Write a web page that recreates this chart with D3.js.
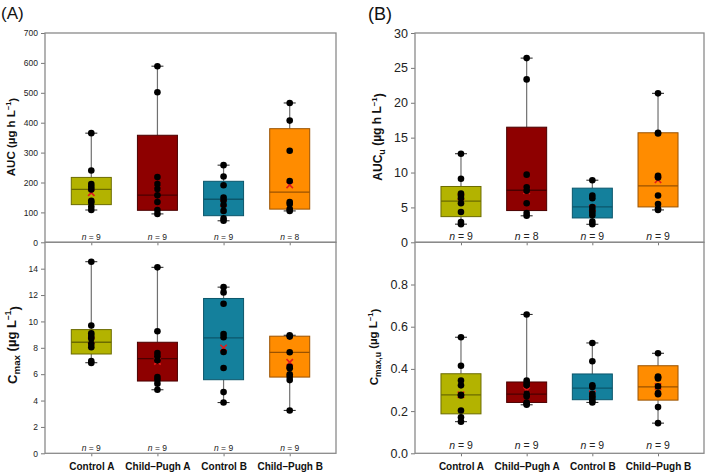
<!DOCTYPE html>
<html><head><meta charset="utf-8">
<script src="https://cdn.jsdelivr.net/npm/d3@7"></script>
<style>
html,body{margin:0;padding:0;background:#fff;}
svg{display:block;font-family:"Liberation Sans",Arial,sans-serif;}
</style></head>
<body><svg id="c" width="709" height="474"></svg>
<script>
// ---------- data ----------
const categories = ["Control A", "Child\u2013Pugh A", "Control B", "Child\u2013Pugh B"];
const fillColors = ["#b3b300", "#8e0000", "#14809c", "#ff8c00"];
const edgeColors = ["#6b6b00", "#4a0000", "#0b566b", "#9a5200"];

// [min, q1, median, q3, max]
const aucStats = [[108,126,177,217,365],[95,107,158,358,589],[72,89,144,204,258],[105,111,168,380,466]];
const aucPoints = [[365,240,195,186,177,139,133,119,108],[589,502,218,195,178,157,135,108,95],[258,220,191,150,140,125,105,80,72],[466,407,306,205,135,128,111,105]];
const aucMeans = [166,186,130,192];
const aucN = [9,9,9,8];
const aucTicks = [0,100,200,300,400,500,600,700];

const cmaxStats = [[6.87,7.53,8.42,9.38,14.53],[4.82,5.48,7.18,8.42,14.1],[3.85,5.58,8.75,11.74,12.6],[3.25,5.78,7.66,8.88,8.95]];
const cmaxPoints = [[14.53,9.69,9.1,8.9,8.7,8.3,8.05,7.0,6.85],[14.1,9.26,7.6,7.35,7.05,5.78,5.58,5.28,4.82],[12.6,12.2,11.34,9.05,8.8,7.68,6.47,4.64,3.85],[8.95,8.85,7.66,6.55,6.45,6.0,5.8,5.55,3.25]];
const cmaxMeans = [8.55,6.97,7.99,6.9];
const cmaxN = [9,9,9,9];
const cmaxTicks = [0,2,4,6,8,10,12,14];

const aucuStats = [[2.6,3.68,5.9,8.0,12.7],[3.8,4.55,7.46,16.5,26.4],[2.58,3.49,5.07,7.76,8.9],[4.64,5.07,8.09,15.7,21.35]];
const aucuPoints = [[12.7,9.1,7.0,6.7,6.3,5.6,4.35,2.9,2.6],[26.4,23.35,9.7,7.9,7.4,5.6,4.2,3.8],[8.9,6.7,6.32,5.07,4.64,4.26,3.87,2.96,2.58],[21.35,15.7,15.6,9.53,9.3,6.7,5.5,4.8,4.64]];
const aucuMeans = [6.5,7.4,4.9,8.95];
const aucuN = [9,8,9,9];
const aucuTicks = [0,5,10,15,20,25,30];

const cmaxuStats = [[0.15,0.187,0.277,0.377,0.55],[0.23,0.241,0.28,0.338,0.658],[0.241,0.254,0.309,0.376,0.523],[0.143,0.252,0.315,0.415,0.474]];
const cmaxuPoints = [[0.55,0.415,0.345,0.322,0.277,0.274,0.203,0.171,0.15],[0.658,0.345,0.333,0.322,0.282,0.27,0.241,0.235,0.23],[0.523,0.436,0.322,0.314,0.282,0.27,0.26,0.248,0.241],[0.474,0.364,0.36,0.355,0.317,0.285,0.28,0.219,0.143]];
const cmaxuMeans = [0.277,0.298,0.282,0.317];
const cmaxuN = [9,9,9,9];
const cmaxuTicks = [0,0.2,0.4,0.6,0.8];

// ---------- drawing ----------
const svg = d3.select("#c");

function panel(o) {
  const g = svg.append("g");
  const x = d3.scalePoint().domain(categories).range([o.x0, o.x1]).padding(0.7);
  const y = d3.scaleLinear().domain(o.domain).range([o.y1, o.y0]);
  const bw = 40, cap = 6;

  // y axis
  const ya = g.append("g").attr("transform", `translate(${o.x0},0)`)
    .call(d3.axisLeft(y).tickValues(o.ticks).tickSize(4).tickPadding(3).tickFormat(o.fmt));
  ya.select(".domain").remove();
  ya.selectAll("line").attr("stroke", "#777");
  ya.selectAll("text").attr("font-size", o.tickFont).attr("fill", "#222")
    .attr("font-family", "'Liberation Sans',Arial,sans-serif");

  // x ticks
  const xa = g.append("g").attr("transform", `translate(0,${o.y1})`)
    .call(d3.axisBottom(x).tickSize(3).tickFormat(o.showCats ? null : ""));
  xa.select(".domain").remove();
  xa.selectAll("line").attr("stroke", "#777");
  xa.selectAll("text").attr("font-size", 10).attr("font-weight", "bold").attr("fill", "#111")
    .attr("dy", "1.1em").attr("font-family", "'Liberation Sans',Arial,sans-serif");

  // whiskers
  categories.forEach((c, i) => {
    const s = o.stats[i], cx = x(c);
    g.append("line").attr("x1", cx).attr("x2", cx).attr("y1", y(s[0])).attr("y2", y(s[1]))
      .attr("stroke", "#707070").attr("stroke-width", 1.2);
    g.append("line").attr("x1", cx).attr("x2", cx).attr("y1", y(s[3])).attr("y2", y(s[4]))
      .attr("stroke", "#707070").attr("stroke-width", 1.2);
    g.append("rect").attr("x", cx - bw / 2).attr("width", bw)
      .attr("y", y(s[3])).attr("height", y(s[1]) - y(s[3]))
      .attr("fill", fillColors[i]).attr("stroke", edgeColors[i]).attr("stroke-width", 1);
    g.append("line").attr("x1", cx - bw / 2).attr("x2", cx + bw / 2).attr("y1", y(s[2])).attr("y2", y(s[2]))
      .attr("stroke", edgeColors[i]).attr("stroke-width", 1.3);
    [s[0], s[4]].forEach(v => {
      g.append("line").attr("x1", cx - cap).attr("x2", cx + cap).attr("y1", y(v)).attr("y2", y(v))
        .attr("stroke", "#333").attr("stroke-width", 1.1);
    });
    // mean marker
    const my = y(o.means[i]), m = 3.2;
    g.append("path").attr("d", `M${cx - m},${my - m}L${cx + m},${my + m}M${cx - m},${my + m}L${cx + m},${my - m}`)
      .attr("stroke", "#e41a1a").attr("stroke-width", 1.6);
    // points
    g.selectAll(null).data(o.points[i]).enter().append("circle")
      .attr("cx", cx).attr("cy", d => y(d)).attr("r", 3.3).attr("fill", "#000");
    // n label
    const t = g.append("text").attr("x", cx).attr("y", o.nY).attr("text-anchor", "middle")
      .attr("font-size", o.nFont).attr("fill", "#222");
    t.append("tspan").attr("font-style", "italic").text("n");
    t.append("tspan").text(" = " + o.n[i]);
  });

  // frame
  g.append("rect").attr("x", o.x0).attr("y", o.y0).attr("width", o.x1 - o.x0).attr("height", o.y1 - o.y0)
    .attr("fill", "none").attr("stroke", "#8a8a8a").attr("stroke-width", 1.3);

  // y title
  const tt = g.append("text").attr("transform", `translate(${o.tx},${o.ty}) rotate(-90)`)
    .attr("text-anchor", "middle").attr("font-weight", "bold").attr("font-size", o.titleFont).attr("fill", "#111");
  o.title.forEach(p => {
    const ts = tt.append("tspan").text(p.t);
    if (p.sub) ts.attr("font-size", o.titleFont * 0.75).attr("dy", "0.3em");
    if (p.back) ts.attr("dy", "-0.3em");
    if (p.sup) ts.attr("font-size", o.titleFont * 0.65).attr("dy", "-0.55em");
    if (p.supback) ts.attr("dy", "0.55em");
  });
}

const titleAUC = [{t: "AUC (\u00b5g h L"}, {t: "\u22121", sup: true}, {t: ")", supback: true}];
const titleCmax = [{t: "C"}, {t: "max", sub: true}, {t: " (\u00b5g L", back: true}, {t: "\u22121", sup: true}, {t: ")", supback: true}];
const titleAUCu = [{t: "AUC"}, {t: "u", sub: true}, {t: " (\u00b5g h L", back: true}, {t: "\u22121", sup: true}, {t: ")", supback: true}];
const titleCmaxu = [{t: "C"}, {t: "max,u", sub: true}, {t: " (\u00b5g L", back: true}, {t: "\u22121", sup: true}, {t: ")", supback: true}];

panel({x0: 45, x1: 336, y0: 33, y1: 242.3, domain: [0, 700], ticks: aucTicks, fmt: d3.format("d"),
  stats: aucStats, points: aucPoints, means: aucMeans, n: aucN, nY: 240, nFont: 8.5, tickFont: 8.5,
  showCats: false, title: titleAUC, titleFont: 11.5, tx: 15, ty: 137});
panel({x0: 45, x1: 336, y0: 242.3, y1: 453.3, domain: [0, 16], ticks: cmaxTicks, fmt: d3.format("d"),
  stats: cmaxStats, points: cmaxPoints, means: cmaxMeans, n: cmaxN, nY: 451, nFont: 8.5, tickFont: 8.5,
  showCats: true, title: titleCmax, titleFont: 13, tx: 17, ty: 345});
panel({x0: 415, x1: 704, y0: 33, y1: 242.3, domain: [0, 30], ticks: aucuTicks, fmt: d3.format("d"),
  stats: aucuStats, points: aucuPoints, means: aucuMeans, n: aucuN, nY: 239.5, nFont: 10.5, tickFont: 12.5,
  showCats: false, title: titleAUCu, titleFont: 12, tx: 382, ty: 137});
panel({x0: 415, x1: 704, y0: 242.3, y1: 453.3, domain: [0, 1.0], ticks: cmaxuTicks, fmt: d3.format(".1f"),
  stats: cmaxuStats, points: cmaxuPoints, means: cmaxuMeans, n: cmaxuN, nY: 449, nFont: 10.5, tickFont: 12.5,
  showCats: true, title: titleCmaxu, titleFont: 11.5, tx: 378, ty: 347});

svg.append("text").attr("x", 1).attr("y", 19).attr("font-size", 17).attr("fill", "#111").text("(A)");
svg.append("text").attr("x", 368).attr("y", 20).attr("font-size", 18).attr("fill", "#111").text("(B)");
</script></body></html>
